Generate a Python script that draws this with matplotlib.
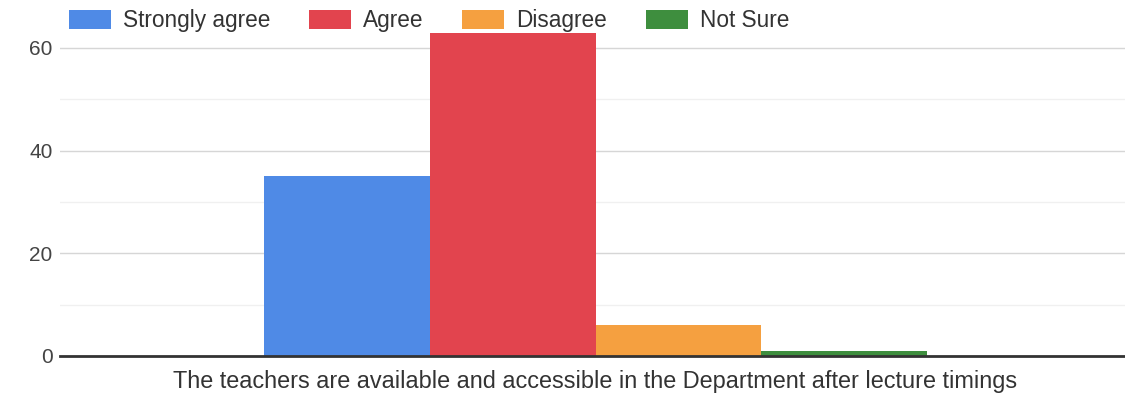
import numpy as np
import matplotlib
matplotlib.use("Agg")
import matplotlib.pyplot as plt

question = "The teachers are available and accessible in the Department after lecture timings"
responses = ["Strongly agree", "Agree", "Disagree", "Not Sure"]
counts = [35, 63, 6, 1]
colors = ["#4f8ae6", "#e2444e", "#f5a040", "#3e8e3e"]
yticks = [0, 20, 40, 60]

plt.rcParams["font.family"] = ["Liberation Sans", "DejaVu Sans"]

fig = plt.figure(figsize=(11.25, 3.95), dpi=100)
ax = fig.add_axes([0.053, 0.099, 0.947, 0.825])

n = len(counts)
width = 0.1557
offsets = (np.arange(n) - (n - 1) / 2) * width
for off, c, col, lab in zip(offsets, counts, colors, responses):
    ax.bar(off, c, width=width, color=col, label=lab, zorder=3)

ax.set_xlim(-0.503, 0.497)
ax.set_ylim(0, 63.5)
ax.set_yticks(yticks)
ax.set_yticks([10, 30, 50], minor=True)
ax.grid(axis="y", which="major", color="#d6d6d6", lw=1, zorder=0)
ax.grid(axis="y", which="minor", color="#f0f0f0", lw=1, zorder=0)
ax.tick_params(axis="y", which="both", length=0, labelsize=15, labelcolor="#444444", pad=5)
ax.set_xticks([0])
ax.set_xticklabels([question])
ax.tick_params(axis="x", length=0, labelsize=16.9, labelcolor="#333333", pad=10)

for s in ["top", "right", "left"]:
    ax.spines[s].set_visible(False)
ax.spines["bottom"].set_color("#333333")
ax.spines["bottom"].set_linewidth(2)
ax.spines["bottom"].set_zorder(4)

fig.legend(loc="upper left", bbox_to_anchor=(0.043, 1.028), ncol=4, frameon=False,
           fontsize=16.3, handlelength=1.85, handleheight=0.95, handletextpad=0.55,
           columnspacing=1.7, labelcolor="#333333")

fig.savefig("out.png", dpi=100)
